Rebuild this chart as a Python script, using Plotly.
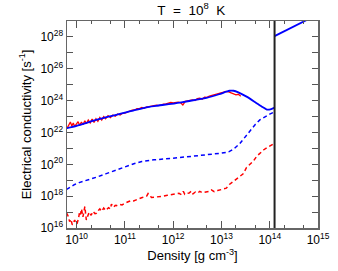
import plotly.graph_objects as go

# log10 density [g cm^-3] and log10 conductivity [s^-1]
blue_solid_x = [9.79, 10.0, 10.48, 11.17, 11.45, 11.65, 12.14, 12.69, 12.95, 13.1, 13.17, 13.25, 13.35, 13.52, 13.7, 13.85, 13.94, 14.03, 14.1]
blue_solid_y = [22.27, 22.42, 22.85, 23.37, 23.58, 23.67, 23.88, 24.17, 24.40, 24.56, 24.62, 24.62, 24.52, 24.25, 23.9, 23.6, 23.44, 23.47, 23.56]

blue_high_x = [14.1, 14.73, 15.0]
blue_high_y = [28.05, 29.0, 29.42]

red_solid_x = [9.80, 9.84, 9.87, 9.90, 9.93, 9.96, 10.00, 10.03, 10.06, 10.10, 10.13, 10.17, 10.20, 10.24,
               10.28, 10.32, 10.36, 10.40, 10.44, 10.48, 10.52, 10.56, 10.60, 10.65, 10.70, 10.75, 10.80,
               10.85, 10.90, 10.95, 11.00, 11.05, 11.10, 11.15, 11.20, 11.25, 11.30, 11.35, 11.40, 11.45,
               11.50, 11.55, 11.60, 11.65, 11.70, 11.75, 11.80, 11.85, 11.90, 11.95, 12.00, 12.05, 12.10,
               12.15, 12.20, 12.25, 12.30, 12.35, 12.40, 12.45, 12.50, 12.55, 12.60, 12.65, 12.70, 12.75,
               12.80, 12.85, 12.90, 12.95, 13.00, 13.05, 13.10, 13.15, 13.20, 13.25, 13.30, 13.35, 13.40]
red_solid_y = [22.25, 22.52, 22.66, 22.40, 22.60, 22.38, 22.56, 22.68, 22.45, 22.66, 22.48, 22.74, 22.55, 22.78,
               22.60, 22.84, 22.63, 22.86, 22.70, 22.94, 22.78, 23.00, 22.86, 23.06, 22.93, 23.10, 23.02,
               23.16, 23.09, 23.20, 23.21, 23.28, 23.32, 23.40, 23.41, 23.49, 23.50, 23.57, 23.52, 23.60,
               23.62, 23.66, 23.70, 23.72, 23.69, 23.76, 23.78, 23.80, 23.83, 23.88, 23.85, 23.90, 23.91,
               23.88, 23.72, 23.95, 23.98, 24.00, 24.05, 24.01, 24.12, 24.15, 24.09, 24.22, 24.20, 24.28,
               24.32, 24.38, 24.42, 24.46, 24.50, 24.53, 24.58, 24.55, 24.50, 24.44, 24.36, 24.40, 24.28]

blue_dash_x = [9.79, 9.85, 9.95, 10.05, 10.2, 10.4, 10.6, 10.8, 11.0, 11.2, 11.35, 11.45, 11.6, 12.0, 12.5,
               12.8, 13.0, 13.15, 13.25, 13.38, 13.5, 13.6, 13.7, 13.8, 13.9, 14.0, 14.1]
blue_dash_y = [18.42, 18.55, 18.72, 18.85, 18.98, 19.18, 19.40, 19.62, 19.85, 20.05, 20.18, 20.22, 20.28,
               20.38, 20.52, 20.62, 20.70, 20.78, 20.95, 21.3, 21.75, 22.15, 22.5, 22.8, 23.0, 23.15, 23.3]

red_dash_x = [9.79, 9.82, 9.855, 9.88, 9.91, 9.94, 9.96, 9.99, 10.01, 10.04, 10.06, 10.08, 10.10, 10.13, 10.15,
              10.17, 10.20, 10.23, 10.26, 10.30, 10.34, 10.38, 10.41, 10.45, 10.48, 10.52, 10.56, 10.60,
              10.62, 10.66, 10.70, 10.72, 10.76, 10.80, 10.82, 10.88, 10.94, 11.00, 11.03, 11.08, 11.13,
              11.18, 11.24, 11.30, 11.36, 11.42, 11.45, 11.48, 11.52, 11.55, 11.62, 11.72, 11.80, 11.88,
              11.96, 12.02, 12.07, 12.12, 12.17, 12.21, 12.24, 12.28, 12.33, 12.38, 12.41, 12.46, 12.51,
              12.55, 12.60, 12.64, 12.69, 12.74, 12.79, 12.85, 12.92, 13.04, 13.10, 13.17, 13.24, 13.31,
              13.38, 13.45, 13.52, 13.59, 13.66, 13.73, 13.80, 13.87, 13.94, 14.02, 14.09]
red_dash_y = [16.95, 16.77, 16.40, 16.55, 16.20, 16.38, 16.50, 16.25, 16.30, 16.62, 17.00, 16.85, 17.20, 16.70,
              17.05, 17.35, 16.50, 16.80, 17.00, 16.80, 17.05, 16.90, 16.92, 17.10, 17.20, 17.05, 17.25,
              17.10, 17.15, 17.28, 17.20, 17.50, 17.30, 17.42, 17.40, 17.48, 17.45, 17.58, 17.60, 17.66,
              17.72, 17.70, 17.80, 17.85, 17.92, 17.95, 18.00, 18.16, 18.05, 17.92, 17.94, 17.96, 18.00,
              18.05, 18.08, 18.10, 18.12, 18.18, 18.10, 18.30, 18.12, 18.18, 18.20, 18.32, 18.15, 18.26,
              18.20, 18.30, 18.22, 18.25, 18.28, 18.30, 18.40, 18.28, 18.35, 18.42, 18.50, 18.75, 18.90,
              19.06, 19.25, 19.40, 19.80, 20.00, 20.20, 20.50, 20.73, 20.90, 21.04, 21.20, 21.30]

vline_x = 14.1

x_tickvals = [10, 11, 12, 13, 14, 15]
y_tickvals = [16, 18, 20, 22, 24, 26, 28]
y_minorvals = [17, 19, 21, 23, 25, 27]


def pw(v):
    return [10.0 ** a for a in v]


fig = go.Figure()
fig.add_trace(go.Scatter(x=pw(red_dash_x), y=pw(red_dash_y), mode="lines",
                         line=dict(color="#ff0000", width=1.5, dash="4px,3px")))
fig.add_trace(go.Scatter(x=pw(blue_dash_x), y=pw(blue_dash_y), mode="lines",
                         line=dict(color="#0000ff", width=1.5, dash="4px,3px")))
fig.add_trace(go.Scatter(x=pw(red_solid_x), y=pw(red_solid_y), mode="lines",
                         line=dict(color="#ff0000", width=1.3)))
fig.add_trace(go.Scatter(x=pw(blue_solid_x), y=pw(blue_solid_y), mode="lines",
                         line=dict(color="#0000ff", width=1.8, shape="spline", smoothing=0.6)))
fig.add_trace(go.Scatter(x=pw(blue_high_x), y=pw(blue_high_y), mode="lines",
                         line=dict(color="#0000ff", width=1.8)))
fig.add_trace(go.Scatter(x=pw([vline_x, vline_x]), y=pw([16, 29]), mode="lines",
                         line=dict(color="#222222", width=2)))

font = "Liberation Sans, Arial, sans-serif"
sp = "\u00a0\u00a0"
fig.update_layout(
    width=338, height=271,
    margin=dict(l=67, r=20, t=21, b=43, autoexpand=False),
    paper_bgcolor="white", plot_bgcolor="white",
    showlegend=False,
    hovermode=False,
    font=dict(family=font, size=12, color="black"),
    title=dict(text="T" + sp + "=" + sp + "10<sup>8</sup>" + sp + "K", xref="paper", x=0.495, xanchor="center",
               yref="container", y=1 - 10 / 271, yanchor="middle",
               font=dict(size=13.5, family=font, color="black")),
    xaxis=dict(
        type="log", range=[9.80, 15.0],
        tickvals=pw(x_tickvals),
        ticktext=["10<sup>%d</sup>" % v for v in x_tickvals],
        ticks="inside", ticklen=7, tickcolor="#555", tickwidth=1,
        minor=dict(ticks="inside", ticklen=3, tickcolor="#555", showgrid=False),
        showline=True, linecolor="#666", linewidth=1.5, mirror="allticks",
        showgrid=False, zeroline=False, automargin=False,
        title=dict(text="Density [g cm<sup>-3</sup>]", standoff=2, font=dict(size=13)),
        tickfont=dict(size=12),
    ),
    yaxis=dict(
        type="log", range=[16, 29],
        tickvals=pw(y_tickvals),
        ticktext=["10<sup>%d</sup>" % v for v in y_tickvals],
        ticks="inside", ticklen=6, tickcolor="#555", tickwidth=1,
        minor=dict(ticks="inside", ticklen=6, tickcolor="#555", showgrid=False,
                   tickvals=pw(y_minorvals)),
        showline=True, linecolor="#666", linewidth=1.5, mirror="allticks",
        showgrid=False, zeroline=False, automargin=False,
        title=dict(text="Electrical conductivity [s<sup>-1</sup>]", standoff=6, font=dict(size=13)),
        tickfont=dict(size=12),
    ),
)

fig.write_html("out.html", config={"displayModeBar": False, "staticPlot": True},
               post_script="document.body.style.margin='0';")
